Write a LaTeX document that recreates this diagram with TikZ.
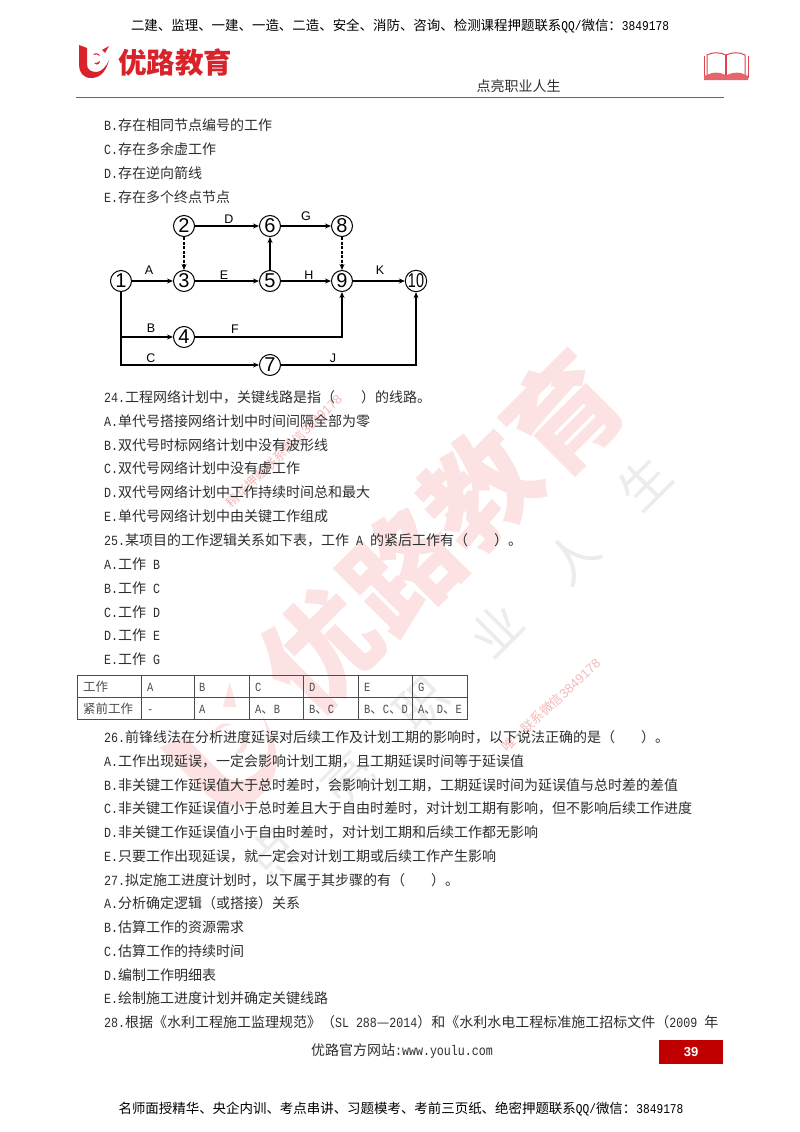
\documentclass[tikz,border=0pt]{standalone}
\usepackage{fontspec}
\usepackage{graphicx}
\setmainfont{Noto Sans CJK SC}
\newfontfamily\latn[FakeStretch=0.833]{Liberation Mono}
\newfontfamily\sansfont{Liberation Sans}
\usetikzlibrary{arrows.meta, positioning}
\definecolor{logored}{RGB}{217,35,43}
\definecolor{pagered}{RGB}{192,0,0}
\definecolor{markred}{RGB}{252,226,226}
\definecolor{markgrey}{RGB}{236,236,236}
\definecolor{smallred}{RGB}{242,185,185}
\definecolor{textgrey}{RGB}{45,45,45}
\newcommand{\la}[1]{{\latn #1}}
\newcommand{\logopath}{(-15,17) -- (-7,14) -- (-7,-2) .. controls (-7,-8) and (-3,-10) .. (3,-10) .. controls (8,-9) and (12,-5) .. (15,2) .. controls (12,-10) and (6,-16) .. (-3,-16) .. controls (-11,-16) and (-15,-10) .. (-15,-3) -- cycle (-1,7) .. controls (1,10) and (5,9) .. (6,6) .. controls (4,8) and (1,8) .. (-1,7) -- cycle (0,-1) .. controls (3,-4) and (6,-2) .. (6,1) .. controls (4,-1) and (2,-1) .. (0,-1) -- cycle (8,12) -- (15,16) -- (11,9) -- cycle}
\tikzset{
  eventnode/.style={draw, circle, line width=1pt, minimum size=21pt, inner sep=0pt, fill=white, font=\sansfont\fontsize{20}{20}\selectfont},
  workline/.style={line width=1.3pt, -{Stealth[length=6pt, width=5pt]}},
  dummyline/.style={workline, dashed, dash pattern=on 3pt off 1.5pt},
  worklabel/.style={inner sep=0pt, font=\sansfont\fontsize{12.5}{12.5}\selectfont},
  bodyline/.style={anchor=base west, inner sep=0pt, text=textgrey, font=\fontsize{14}{16}\selectfont},
  cellbox/.style={anchor=base west, inner sep=0pt, text=textgrey!85, font=\fontsize{12.5}{14}\selectfont},
  headline/.style={inner sep=0pt, text=black, font=\fontsize{13.45}{15}\selectfont},
}
\begin{document}
\begin{tikzpicture}[x=1pt, y=-1pt]
  \useasboundingbox (0,0) rectangle (800,1132);

  % watermark
  \foreach \ch/\cx/\cy [count=\n] in {优/320/650, 路/402/570, 教/480/490, 育/563/413}
    \node[rotate=45, inner sep=0pt, text=markred, font=\bfseries\fontsize{112}{112}\selectfont] (mark\n) at (\cx,\cy) {\ch};
  \begin{scope}[shift={(232,752)}, rotate=45, scale=3.2, yscale=-1]
    \fill[markred] \logopath;
  \end{scope}
  \foreach \ch/\cx/\cy [count=\n] in {点/273/853, 亮/348/778, 职/422/704, 业/496/630, 人/573/557, 生/644/483}
    \node[rotate=45, inner sep=0pt, text=markgrey, font=\fontsize{50}{50}\selectfont] (slogan\n) at (\cx,\cy) {\ch};
  \node[rotate=44, inner sep=0pt, text=smallred, font=\fontsize{13}{13}\selectfont] (contactA) at (284,451) {精华押题联系微信{\sansfont 3849178}};
  \node[rotate=43, inner sep=0pt, text=smallred, font=\fontsize{13}{13}\selectfont] (contactB) at (551,705) {唯一联系微信{\sansfont 3849178}};

  % page head
  \node[headline] (toptext) at (400,26) {二建、监理、一建、一造、二造、安全、消防、咨询、检测课程押题联系\la{QQ/}微信：\la{3849178}};
  \begin{scope}[shift={(94,62)}, yscale=-1]
    \fill[logored] \logopath;
  \end{scope}
  \node[inner sep=0pt, text=logored, font=\bfseries\fontsize{28.5}{30}\selectfont] (brand) at (175,62) {优路教育};
  \node[inner sep=0pt, text=textgrey, font=\fontsize{14}{16}\selectfont] (motto) at (518.5,86) {点亮职业人生};
  \draw[line width=1pt, black!60] (76,97) -- (724,97);
  % book
  \draw[logored!85, line width=1pt, fill=white] (726,55) .. controls (720,52) and (712,52) .. (707,55) -- (707,76) .. controls (712,73) and (720,73) .. (726,76) .. controls (732,73) and (740,73) .. (745,76) -- (745,55) .. controls (740,52) and (732,52) .. (726,55) -- cycle;
  \draw[logored!85, line width=1.2pt] (726,55) -- (726,76);
  \draw[logored!85, line width=1pt] (704,56) -- (704,78) (748,56) -- (748,78);
  \fill[logored!70] (704,76) -- (712,73) .. controls (718,72) and (723,73) .. (726,76) .. controls (730,73) and (736,72) .. (741,73) -- (748,76) -- (748,80) -- (704,80) -- cycle;

  % question lines
  \foreach \y/\t [count=\n] in {
    125/{\la{B.}存在相同节点编号的工作},
    149/{\la{C.}存在多余虚工作},
    173/{\la{D.}存在逆向箭线},
    197/{\la{E.}存在多个终点节点},
    397/{\la{24.}工程网络计划中，关键线路是指（\hspace{26pt}）的线路。},
    421/{\la{A.}单代号搭接网络计划中时间间隔全部为零},
    445/{\la{B.}双代号时标网络计划中没有波形线},
    468/{\la{C.}双代号网络计划中没有虚工作},
    492/{\la{D.}双代号网络计划中工作持续时间总和最大},
    516/{\la{E.}单代号网络计划中由关键工作组成},
    540/{\la{25.}某项目的工作逻辑关系如下表，工作\la{ A }的紧后工作有（\hspace{26pt}）。},
    564/{\la{A.}工作\la{ B}},
    588/{\la{B.}工作\la{ C}},
    612/{\la{C.}工作\la{ D}},
    635/{\la{D.}工作\la{ E}},
    659/{\la{E.}工作\la{ G}},
    737/{\la{26.}前锋线法在分析进度延误对后续工作及计划工期的影响时，以下说法正确的是（\hspace{26pt}）。},
    761/{\la{A.}工作出现延误，一定会影响计划工期，且工期延误时间等于延误值},
    785/{\la{B.}非关键工作延误值大于总时差时，会影响计划工期，工期延误时间为延误值与总时差的差值},
    808/{\la{C.}非关键工作延误值小于总时差且大于自由时差时，对计划工期有影响，但不影响后续工作进度},
    832/{\la{D.}非关键工作延误值小于自由时差时，对计划工期和后续工作都无影响},
    856/{\la{E.}只要工作出现延误，就一定会对计划工期或后续工作产生影响},
    880/{\la{27.}拟定施工进度计划时，以下属于其步骤的有（\hspace{26pt}）。},
    903/{\la{A.}分析确定逻辑（或搭接）关系},
    927/{\la{B.}估算工作的资源需求},
    951/{\la{C.}估算工作的持续时间},
    975/{\la{D.}编制工作明细表},
    998/{\la{E.}绘制施工进度计划并确定关键线路},
    1022/{\resizebox{614pt}{!}{\la{28.}根据《水利工程施工监理规范》（\la{SL 288}—\la{2014}）和《水利水电工程标准施工招标文件（\la{2009 }年}}}
    \node[bodyline] (line\n) at (104,\y+5) {\t};

  % network
  \node[eventnode] (ev1) at (121,281) {1};
  \node[eventnode] (ev2) at (184,226) {2};
  \node[eventnode] (ev3) at (184,281) {3};
  \node[eventnode] (ev4) at (184,337) {4};
  \node[eventnode] (ev5) at (270,281) {5};
  \node[eventnode] (ev6) at (270,226) {6};
  \node[eventnode] (ev7) at (270,365) {7};
  \node[eventnode] (ev8) at (342,226) {8};
  \node[eventnode] (ev9) at (342,281) {9};
  \node[eventnode] (ev10) at (416,281) {\scalebox{.72}[1]{10}};

  \draw[workline] (ev1) -- (ev3);
  \draw[workline] (ev3) -- (ev5);
  \draw[workline] (ev5) -- (ev9);
  \draw[workline] (ev9) -- (ev10);
  \draw[workline] (ev2) -- (ev6);
  \draw[workline] (ev6) -- (ev8);
  \draw[workline] (ev5) -- (ev6);
  \draw[dummyline] (ev2) -- (ev3);
  \draw[dummyline] (ev8) -- (ev9);
  \draw[workline] (ev1.south) |- (ev4.west);
  \draw[workline] (ev1.south) |- (ev7.west);
  \draw[workline] (ev4.east) -| (ev9.south);
  \draw[workline] (ev7.east) -| (ev10.south);

  \node[worklabel] (labA) at (149,270) {A};
  \node[worklabel] (labB) at (151,328) {B};
  \node[worklabel] (labC) at (151,358) {C};
  \node[worklabel] (labD) at (229,219) {D};
  \node[worklabel] (labE) at (224,275) {E};
  \node[worklabel] (labF) at (235,329) {F};
  \node[worklabel] (labG) at (306,216) {G};
  \node[worklabel] (labH) at (309,275) {H};
  \node[worklabel] (labJ) at (333,358) {J};
  \node[worklabel] (labK) at (380,270) {K};

  % table
  \draw[line width=0.8pt, black!70] (77,675) rectangle (467,719);
  \draw[line width=0.8pt, black!70] (77,697) -- (467,697);
  \foreach \x in {141,194,249,303,358,412}
    \draw[line width=0.8pt, black!70] (\x,675) -- (\x,719);
  \foreach \x/\t [count=\n] in {83/工作, 147/\la{A}, 199/\la{B}, 255/\la{C}, 309/\la{D}, 364/\la{E}, 418/\la{G}}
    \node[cellbox] (top\n) at (\x,691) {\t};
  \foreach \x/\t [count=\n] in {83/紧前工作, 147/\la{-}, 199/\la{A}, 255/{\la{A}、\la{B}}, 309/{\la{B}、\la{C}}, 364/{\la{B}、\la{C}、\la{D}}, 418/{\la{A}、\la{D}、\la{E}}}
    \node[cellbox] (low\n) at (\x,713) {\t};

  % page foot
  \node[inner sep=0pt, text=textgrey, font=\fontsize{14}{16}\selectfont] (website) at (402,1051) {优路官方网站\la{:www.youlu.com}};
  \node[fill=pagered, minimum width=64pt, minimum height=24pt, inner sep=0pt, text=white, font=\sansfont\bfseries\fontsize{13}{13}\selectfont] (pagenum) at (691,1052) {39};
  \node[headline] (foottext) at (401,1109) {名师面授精华、央企内训、考点串讲、习题模考、考前三页纸、绝密押题联系\la{QQ/}微信：\la{3849178}};
\end{tikzpicture}
\end{document}
